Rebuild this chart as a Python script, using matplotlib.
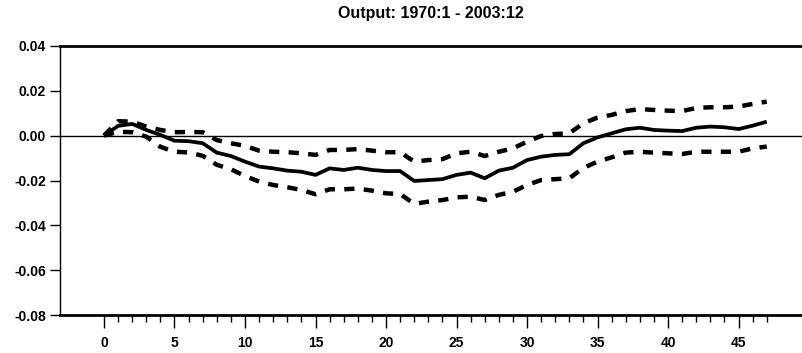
import matplotlib
matplotlib.use("Agg")
from matplotlib import pyplot as plt
from matplotlib.ticker import FixedLocator
import numpy as np

plt.rcParams['font.family'] = ['Liberation Sans Narrow', 'Liberation Sans', 'DejaVu Sans']

# impulse response of output, with upper and lower bands
steps = list(range(48))
response = [0.0, 0.0043, 0.0052, 0.0025, 0.0003, -0.0023, -0.0025, -0.0034,
            -0.0076, -0.0091, -0.0116, -0.0138, -0.0146, -0.0156, -0.0161, -0.0175,
            -0.0146, -0.0153, -0.0143, -0.0153, -0.0158, -0.0158, -0.0202, -0.0198,
            -0.0194, -0.0175, -0.0165, -0.0190, -0.0156, -0.0143, -0.0109, -0.0094,
            -0.0086, -0.0083, -0.0034, -0.0008, 0.0010, 0.0028, 0.0035, 0.0025,
            0.0022, 0.0020, 0.0035, 0.0040, 0.0037, 0.0029, 0.0044, 0.0062]
upper = [0.0, 0.0064, 0.0062, 0.0040, 0.0025, 0.0015, 0.0016, 0.0015,
         -0.0020, -0.0034, -0.0046, -0.0067, -0.0072, -0.0074, -0.0079, -0.0086,
         -0.0064, -0.0064, -0.0060, -0.0067, -0.0074, -0.0074, -0.0116, -0.0109,
         -0.0105, -0.0079, -0.0072, -0.0091, -0.0072, -0.0057, -0.0027, -0.0002,
         0.0007, 0.0010, 0.0055, 0.0080, 0.0092, 0.0109, 0.0118, 0.0114,
         0.0111, 0.0109, 0.0123, 0.0126, 0.0126, 0.0129, 0.0141, 0.0151]
lower = [0.0, 0.0017, 0.0015, -0.0005, -0.0050, -0.0072, -0.0075, -0.0090,
         -0.0130, -0.0150, -0.0180, -0.0205, -0.0220, -0.0230, -0.0242, -0.0261,
         -0.0239, -0.0239, -0.0236, -0.0245, -0.0257, -0.0260, -0.0304, -0.0294,
         -0.0287, -0.0275, -0.0272, -0.0287, -0.0264, -0.0250, -0.0220, -0.0198,
         -0.0194, -0.0190, -0.0144, -0.0116, -0.0097, -0.0076, -0.0072, -0.0076,
         -0.0079, -0.0082, -0.0072, -0.0072, -0.0072, -0.0072, -0.0057, -0.0049]

fig = plt.figure(figsize=(8.02, 3.53), dpi=100)
ax = fig.add_axes([0.0748, 0.1068, 0.9252, 0.7637])

ax.axhline(0, color='black', lw=1.0, zorder=1)
ax.plot(steps, response, color='black', lw=2.7, solid_capstyle='butt', zorder=3)
ax.plot(steps, upper, color='black', lw=3.2, linestyle=(0, (2.3, 2.1)), zorder=3)
ax.plot(steps, lower, color='black', lw=3.2, linestyle=(0, (2.3, 2.1)), zorder=3)

ax.set_xlim(-3.12, 49.5)
ax.set_ylim(-0.08, 0.04)

ax.set_yticks(np.arange(-0.08, 0.041, 0.02))
ax.set_yticklabels(['%.2f' % v for v in np.arange(-0.08, 0.041, 0.02)])
ax.xaxis.set_major_locator(FixedLocator(list(range(0, 46, 5))))
ax.xaxis.set_minor_locator(FixedLocator(steps))

for s in ['top', 'bottom']:
    ax.spines[s].set_linewidth(2.0)
ax.spines['left'].set_linewidth(1.0)
ax.spines['right'].set_visible(False)

ax.tick_params(axis='y', direction='out', length=7, width=1.0, pad=3,
               labelsize=10)
ax.tick_params(axis='x', which='major', direction='out', length=9, width=1.0,
               pad=6, labelsize=10)
ax.tick_params(axis='x', which='minor', direction='out', length=5, width=1.0)
for lab in ax.get_xticklabels() + ax.get_yticklabels():
    lab.set_fontweight('bold')

ax.set_title('Output: 1970:1 - 2003:12', fontsize=11.5, fontweight='bold', pad=20)

fig.savefig('out.png', dpi=100)
